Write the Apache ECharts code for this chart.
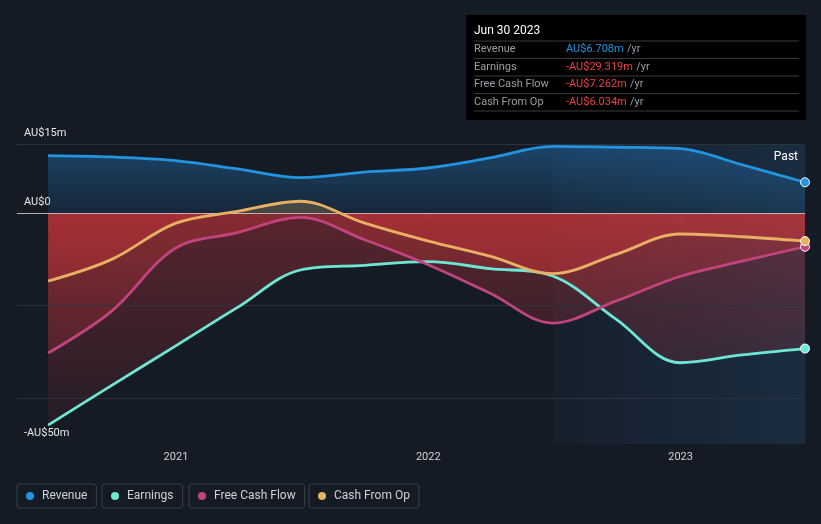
<!DOCTYPE html>
<html><head><meta charset="utf-8">
<script src="https://cdn.jsdelivr.net/npm/echarts@6/dist/echarts.min.js"></script>
<style>html,body{margin:0;padding:0;background:#151b25;}#c{width:821px;height:524px;}</style>
</head><body><div id="c"></div>
<script>
// ---- data ----
const dates = ['2020-06-30','2020-09-30','2020-12-31','2021-03-31','2021-06-30','2021-09-30','2021-12-31','2022-03-31','2022-06-30','2022-09-30','2022-12-31','2023-03-31','2023-06-30'];
const revenue = [12.5, 12.2, 11.4, 9.6, 7.7, 8.9, 9.8, 12.0, 14.5, 14.3, 14.0, 10.5, 6.708];
const earnings = [-45.9, -37.3, -28.8, -20.4, -12.3, -11.3, -10.5, -12.0, -13.6, -23.0, -32.4, -30.7, -29.319];
const freeCashFlow = [-30.3, -21.2, -7.6, -4.2, -0.9, -5.7, -11.1, -17.3, -23.8, -19.0, -13.7, -10.4, -7.262];
const cashFromOp = [-14.7, -10.0, -2.2, 0.4, 2.6, -2.1, -6.0, -9.3, -13.1, -8.9, -4.5, -5.1, -6.034];
const seriesNames = ['Revenue', 'Earnings', 'Free Cash Flow', 'Cash From Op'];
const seriesColors = ['#2394df', '#6ee6d5', '#c2447f', '#e8b062'];
const yTickLabels = [15, 0, -50];
const yGridLines = [15, -20, -40];
const xTickYears = [2021, 2022, 2023];
const pastStart = '2022-06-30';
const pastLabel = 'Past';
const axisMin = '2020-05-16';

// ---- helpers ----
const ts = s => { const [y,m,d] = s.split('-').map(Number); return Date.UTC(y, m-1, d); };
const allValues = [revenue, earnings, freeCashFlow, cashFromOp];
const fmtMoney = v => (v < 0 ? '-' : '') + 'AU$' + Math.abs(v).toFixed(3) + 'm';
const fmtAxis = v => (v < 0 ? '-' : '') + 'AU$' + Math.abs(v) + (v === 0 ? '' : 'm');
const monthNames = ['Jan','Feb','Mar','Apr','May','Jun','Jul','Aug','Sep','Oct','Nov','Dec'];
const lastDate = new Date(ts(dates[dates.length-1]));
const titleText = monthNames[lastDate.getUTCMonth()] + ' ' + lastDate.getUTCDate() + ' ' + lastDate.getUTCFullYear();

const chart = echarts.init(document.getElementById('c'), null, {renderer: 'canvas'});
const G = echarts.graphic;
const gridTop = 144, gridBottom = 444;
const zeroOff = (15 - 0) / 65;

const revFill = new G.LinearGradient(0, gridTop, 0, gridBottom, [
  {offset: 0, color: 'rgba(35,120,190,0.45)'},
  {offset: zeroOff, color: 'rgba(35,120,190,0.13)'},
  {offset: 1, color: 'rgba(35,120,190,0.0)'}
], true);
const negFill = () => new G.LinearGradient(0, gridTop, 0, gridBottom, [
  {offset: 0, color: 'rgba(230,175,95,0.28)'},
  {offset: zeroOff, color: 'rgba(230,175,95,0.22)'},
  {offset: zeroOff, color: 'rgba(222,55,60,0.34)'},
  {offset: 1, color: 'rgba(222,55,60,0.05)'}
], true);

const series = [];
// gridlines
series.push({
  type: 'line', name: '_grid', data: [[ts(dates[0]), 0]], showSymbol: false, lineStyle: {opacity: 0}, z: 1, silent: true,
  markLine: {silent: true, symbol: 'none', label: {show: false},
    lineStyle: {color: '#2c323d', width: 1, type: 'solid'},
    data: yGridLines.map(v => ({yAxis: v}))}
});
allValues.forEach((vals, i) => {
  series.push({
    type: 'line', name: '_area' + i, z: 2, silent: true, smooth: 0.35,
    data: vals.map((v, k) => [ts(dates[k]), v]),
    showSymbol: false, lineStyle: {width: 0, opacity: 0},
    areaStyle: {color: i === 0 ? revFill : negFill(), opacity: 1}
  });
});
// past band + zero line
series.push({
  type: 'line', name: '_band', data: [[ts(dates[0]), 0]], showSymbol: false, lineStyle: {opacity: 0}, z: 3, silent: true,
  markArea: {silent: true,
    itemStyle: {color: new G.LinearGradient(0, 0, 1, 0, [
      {offset: 0, color: 'rgba(45,115,175,0.05)'},
      {offset: 1, color: 'rgba(45,115,175,0.2)'}])},
    label: {show: true, formatter: pastLabel, position: 'insideTopRight', distance: 7, color: '#ffffff', fontSize: 12, fontFamily: 'Roboto'},
    data: [[{name: pastLabel, xAxis: ts(pastStart)}, {xAxis: ts(dates[dates.length-1])}]]},
  markLine: {silent: true, symbol: 'none', label: {show: false},
    lineStyle: {color: 'rgba(215,215,215,0.75)', width: 1.2, type: 'solid'},
    data: [{yAxis: 0}]}
});
allValues.forEach((vals, i) => {
  series.push({
    type: 'line', name: seriesNames[i], z: 5, smooth: 0.35,
    color: seriesColors[i],
    symbol: 'none',
    data: vals.map((v, k) => k === vals.length - 1
      ? {value: [ts(dates[k]), v], symbol: 'circle', symbolSize: 9, itemStyle: {color: seriesColors[i], borderColor: '#ffffff', borderWidth: 1}}
      : [ts(dates[k]), v]),
    lineStyle: {width: 2.8, color: seriesColors[i]}
  });
});

// legends
const legendLefts = [17, 102, 189, 309];
const legends = seriesNames.map((n, i) => ({
  data: [n], left: legendLefts[i], top: 484, orient: 'horizontal',
  icon: 'circle', itemWidth: 14, itemHeight: 8,
  borderColor: '#3b414c', borderWidth: 1, borderRadius: 3, padding: [6, 9, 6, 9],
  textStyle: {color: '#cfd2d6', fontSize: 12, fontFamily: 'Roboto'},
  selectedMode: false
}));

// tooltip-like box
const rowY0 = 49.5, rowStep = 17.5;
const graphics = [
  {type: 'rect', left: 466, top: 15, shape: {width: 340, height: 105}, style: {fill: '#000000'}},
  {type: 'text', x: 474, y: 31, style: {text: titleText, fill: '#ffffff', font: '12px Roboto', verticalAlign: 'middle'}},
  {type: 'line', shape: {x1: 474, y1: 41, x2: 799, y2: 41}, style: {stroke: '#3a3a3a', lineWidth: 1}}
];
seriesNames.forEach((n, i) => {
  const v = allValues[i][allValues[i].length - 1];
  const y = rowY0 + i * rowStep;
  graphics.push({type: 'text', x: 474, y: y, style: {text: n, fill: '#9a9ea4', font: '11px Roboto', verticalAlign: 'middle'}});
  graphics.push({type: 'text', x: 566, y: y, style: {
    text: '{v|' + fmtMoney(v) + '} {u|/yr}', verticalAlign: 'middle',
    rich: {v: {fill: v < 0 ? '#e8413e' : '#2394df', font: '11px Roboto'}, u: {fill: '#9a9ea4', font: '11px Roboto'}}
  }});
  graphics.push({type: 'line', shape: {x1: 474, y1: y + 9, x2: 799, y2: y + 9}, style: {stroke: '#3a3a3a', lineWidth: 1}});
});

chart.setOption({
  backgroundColor: '#151b25',
  animation: false,
  textStyle: {fontFamily: 'Roboto'},
  grid: {left: 17, right: 16, top: gridTop, bottom: 524 - gridBottom, containLabel: false},
  xAxis: {
    type: 'value', min: ts(axisMin), max: ts(dates[dates.length-1]),
    axisLine: {show: true, lineStyle: {color: '#3f4550'}},
    axisTick: {show: true, customValues: xTickYears.map(y => Date.UTC(y,0,1)), length: 5, lineStyle: {color: '#3f4550'}},
    axisLabel: {customValues: xTickYears.map(y => Date.UTC(y,0,1)), formatter: v => String(new Date(v).getUTCFullYear()),
      color: '#cfd2d6', fontSize: 11, margin: 8},
    splitLine: {show: false}
  },
  yAxis: {
    type: 'value', min: -50, max: 15,
    axisLine: {show: false}, axisTick: {show: false}, splitLine: {show: false},
    axisLabel: {customValues: yTickLabels, formatter: fmtAxis, inside: true, verticalAlign: 'bottom',
      color: '#e6e8ea', fontSize: 11, margin: 7, padding: [0, 0, 5, 0]}
  },
  legend: legends,
  series: series,
  graphic: graphics
});
</script></body></html>
